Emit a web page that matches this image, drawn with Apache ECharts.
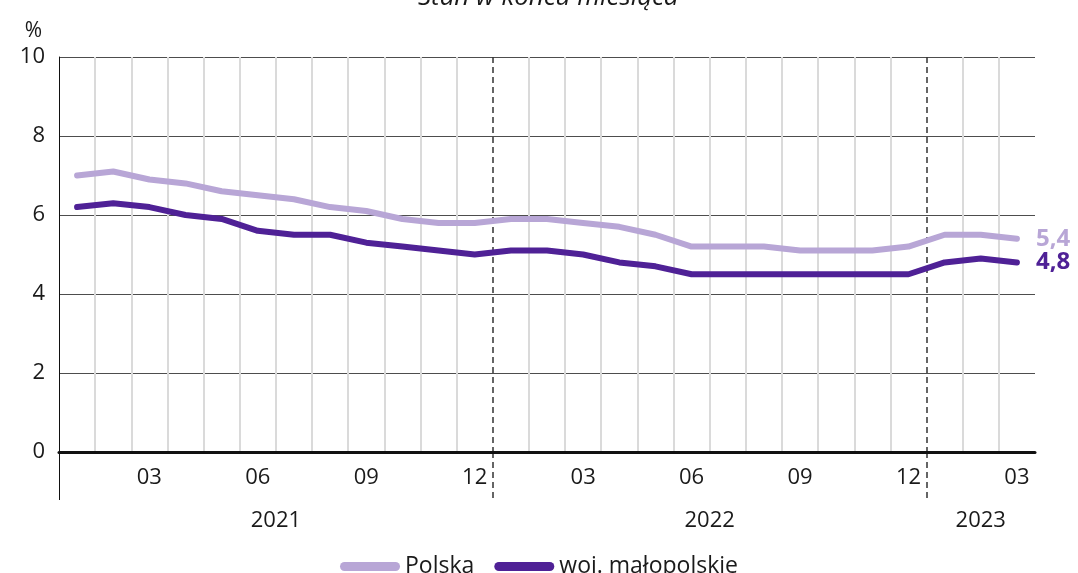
<!DOCTYPE html>
<html>
<head>
<meta charset="utf-8">
<script src="https://cdn.jsdelivr.net/npm/echarts@6/dist/echarts.min.js"></script>
<style>
  html, body { margin: 0; padding: 0; background: #fff; }
  #chart { width: 1078px; height: 573px; }
</style>
</head>
<body>
<div id="chart"></div>
<script>
// miesiące 2021-01 .. 2023-03
const months = [
  '01', '02', '03', '04', '05', '06', '07', '08', '09', '10', '11', '12',
  '01', '02', '03', '04', '05', '06', '07', '08', '09', '10', '11', '12',
  '01', '02', '03'
]
const polska = [
  7.0, 7.1, 6.9, 6.8, 6.6, 6.5, 6.4, 6.2, 6.1, 5.9, 5.8, 5.8,
  5.9, 5.9, 5.8, 5.7, 5.5, 5.2, 5.2, 5.2, 5.1, 5.1, 5.1, 5.2,
  5.5, 5.5, 5.4
]
const malopolskie = [
  6.2, 6.3, 6.2, 6.0, 5.9, 5.6, 5.5, 5.5, 5.3, 5.2, 5.1, 5.0,
  5.1, 5.1, 5.0, 4.8, 4.7, 4.5, 4.5, 4.5, 4.5, 4.5, 4.5, 4.5,
  4.8, 4.9, 4.8
]
const years = ['2021', '2022', '2023']
const yearPositions = [6, 18, 25.5]   // środek opisu roku w jednostkach miesięcy
const yearBreaks = [12, 24]           // granice lat (linie przerywane)

// granice między miesiącami (0..27) – pomocnicza oś do linii pionowych
const boundaries = Array.from({ length: months.length + 1 }, (_, i) => String(i))
const last = months.length

const FONT = '"Open Sans", sans-serif'
const TEXT = '#1a1a1a'
const LIGHT = '#b8a6d6'
const DARK = '#4f2196'

const chart = echarts.init(document.getElementById('chart'))

const fmt = v => String(v.toFixed(1)).replace('.', ',')

const option = {
  animation: false,
  textStyle: { fontFamily: FONT },
  title: {
    text: 'Stan w końcu miesiąca',
    left: 413,
    top: -20,
    textStyle: { fontFamily: FONT, fontSize: 26, fontStyle: 'italic', fontWeight: 'normal', color: TEXT }
  },
  grid: { left: 59, right: 43, top: 57, bottom: 121 },
  legend: {
    top: 550,
    left: 'center',
    itemWidth: 60,
    itemHeight: 9,
    itemGap: 20,
    textStyle: { fontFamily: FONT, fontSize: 23, color: TEXT },
    data: [
      { name: 'Polska', icon: 'path://M4.5,0 H55.5 A4.5,4.5 0 0 1 55.5,9 H4.5 A4.5,4.5 0 0 1 4.5,0 Z' },
      { name: 'woj. małopolskie', icon: 'path://M4.5,0 H55.5 A4.5,4.5 0 0 1 55.5,9 H4.5 A4.5,4.5 0 0 1 4.5,0 Z' }
    ]
  },
  xAxis: [
    {
      type: 'category',
      data: months,
      boundaryGap: true,
      position: 'bottom',
      axisLine: { lineStyle: { color: '#111', width: 3 } },
      axisTick: { show: false },
      axisLabel: {
        interval: i => i % 3 === 2,
        margin: 15,
        fontSize: 22,
        color: TEXT
      },
      splitLine: { show: false },
      z: 5
    },
    {
      // szare linie miesięczne
      type: 'category',
      data: boundaries,
      boundaryGap: false,
      position: 'bottom',
      axisLine: { show: false },
      axisLabel: { show: false },
      axisTick: { show: false },
      splitLine: {
        show: true,
        interval: i => i !== 0 && i !== last && !yearBreaks.includes(i),
        lineStyle: { color: '#dadada', width: 2 }
      }
    },
    {
      // linie przerywane między latami
      type: 'category',
      data: boundaries,
      boundaryGap: false,
      position: 'bottom',
      axisLine: { show: false },
      axisLabel: { show: false },
      axisTick: {
        show: true,
        interval: i => yearBreaks.includes(i),
        length: 48,
        lineStyle: { color: '#333', width: 1.5, type: [6, 4] }
      },
      splitLine: {
        show: true,
        interval: i => yearBreaks.includes(i),
        lineStyle: { color: '#333', width: 1.5, type: [6, 4] }
      }
    },
    {
      // przedłużenie osi Y pod osią X
      type: 'category',
      data: boundaries,
      boundaryGap: false,
      position: 'bottom',
      axisLine: { show: false },
      axisLabel: { show: false },
      axisTick: {
        show: true,
        interval: i => i === 0,
        length: 48,
        lineStyle: { color: '#111', width: 1 }
      },
      splitLine: { show: false }
    },
    {
      // opisy lat
      type: 'value',
      min: 0,
      max: months.length,
      interval: 0.5,
      position: 'bottom',
      axisLine: { show: false },
      axisTick: { show: false },
      splitLine: { show: false },
      axisLabel: {
        margin: 58,
        fontSize: 22,
        color: TEXT,
        showMinLabel: true,
        showMaxLabel: true,
        formatter: v => {
          const k = yearPositions.indexOf(v)
          return k >= 0 ? years[k] : ''
        }
      }
    }
  ],
  yAxis: {
    type: 'value',
    min: 0,
    max: 10,
    interval: 2,
    name: '%',
    nameLocation: 'end',
    nameGap: 15,
    nameTextStyle: { fontSize: 21, color: TEXT, align: 'right', padding: [0, 17, 0, 0] },
    axisLine: { show: true, lineStyle: { color: '#111', width: 1 } },
    axisTick: { show: false },
    axisLabel: { fontSize: 22, color: TEXT, margin: 14 },
    splitLine: { lineStyle: { color: '#4d4d4d', width: 1 } }
  },
  series: [
    {
      name: 'Polska',
      type: 'line',
      data: polska,
      showSymbol: false,
      color: LIGHT,
      lineStyle: { width: 6, color: LIGHT, cap: 'round', join: 'round' },
      endLabel: {
        show: true,
        distance: 19,
        formatter: p => fmt(p.value),
        fontSize: 24,
        fontWeight: 'bold',
        color: LIGHT
      },
      z: 3
    },
    {
      name: 'woj. małopolskie',
      type: 'line',
      data: malopolskie,
      showSymbol: false,
      color: DARK,
      lineStyle: { width: 6, color: DARK, cap: 'round', join: 'round' },
      endLabel: {
        show: true,
        distance: 19,
        formatter: p => fmt(p.value),
        fontSize: 24,
        fontWeight: 'bold',
        color: DARK
      },
      z: 4
    }
  ]
}

chart.setOption(option)
</script>
</body>
</html>
